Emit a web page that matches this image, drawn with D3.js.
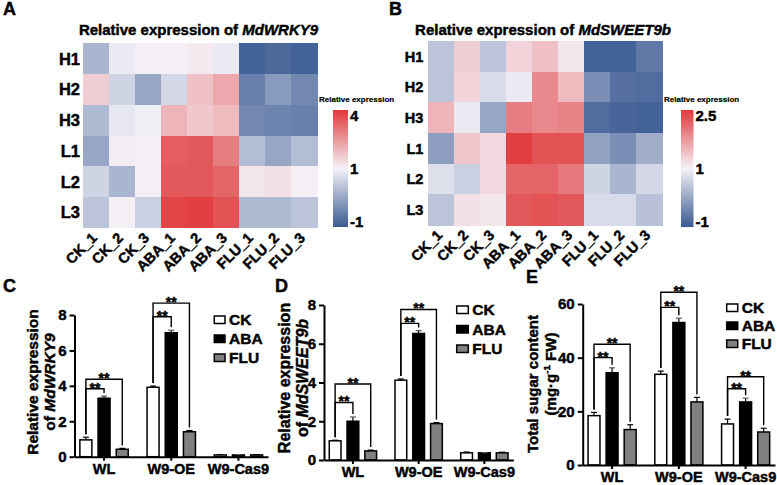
<!DOCTYPE html>
<html><head><meta charset="utf-8">
<script src="https://cdn.jsdelivr.net/npm/d3@7"></script>
<style>
body{margin:0;background:#fff;}
svg text{font-family:"Liberation Sans",Arial,Helvetica,sans-serif;font-weight:bold;fill:#000;stroke:#000;stroke-width:0.45px;paint-order:stroke;}
svg text.thin{stroke-width:0.2px;}
</style></head><body>
<svg id="fig" width="777" height="485"></svg>
<script>
// ---------- DATA ----------
const hmRows = ["H1","H2","H3","L1","L2","L3"];
const hmCols = ["CK_1","CK_2","CK_3","ABA_1","ABA_2","ABA_3","FLU_1","FLU_2","FLU_3"];
const wrky9Heat = [
  [0.2, 0.9, 1.05, 1.05, 1.15, 0.9, -0.9, -0.8, -0.9],
  [1.6, 0.6, 0.0, 0.65, 1.8, 2.2, -0.5, -0.15, -0.4],
  [0.25, 0.85, 0.95, 2.0, 1.7, 1.9, -0.4, -0.45, -0.5],
  [0.0, 1.1, 1.05, 3.4, 3.5, 2.9, 0.3, 0.0, 0.3],
  [0.6, 0.2, 1.05, 3.5, 3.5, 3.3, 1.2, 1.3, 1.05],
  [0.4, 1.05, 0.55, 3.8, 3.9, 3.6, 0.25, 0.25, 0.4]
];
const wrky9Domain = [-1, 1, 4];
const wrky9BarTicks = ["-1", "1", "4"];
const sweet9bHeat = [
  [0.4, 1.3, 0.4, 1.25, 1.4, 1.1, -0.9, -0.9, -0.6],
  [0.4, 1.25, 0.7, 0.9, 1.85, 1.45, -0.3, -0.7, -0.75],
  [1.5, 0.9, 0.0, 1.95, 1.85, 1.9, -0.75, -0.85, -0.9],
  [-0.1, 1.35, 1.2, 2.45, 2.3, 2.3, -0.05, -0.3, 0.1],
  [0.75, 0.55, 1.2, 2.15, 2.15, 2.0, 0.6, 0.2, 0.65],
  [0.4, 1.15, 1.1, 2.25, 2.3, 2.25, 0.7, 0.7, 0.35]
];
const sweet9bDomain = [-1, 1, 2.5];
const sweet9bBarTicks = ["-1", "1", "2.5"];

const groups = ["WL", "W9-OE", "W9-Cas9"];
const treatments = ["CK", "ABA", "FLU"];
const wrky9Mean = [[0.95, 3.3, 0.42], [3.92, 7.0, 1.41], [0.1, 0.1, 0.1]];
const wrky9Err  = [[0.15, 0.12, 0.05], [0.07, 0.14, 0.07], [0.02, 0.02, 0.02]];
const wrky9Sig  = [[0, 1, 3.84], [0, 2, 4.37], [1, 1, 7.9], [1, 2, 8.67]];
const wrky9Ticks = [0, 2, 4, 6, 8];

const sweet9bMean = [[0.99, 2.0, 0.47], [4.12, 6.53, 1.88], [0.37, 0.37, 0.37]];
const sweet9bErr  = [[0.03, 0.22, 0.04], [0.06, 0.15, 0.05], [0.04, 0.01, 0.03]];
const sweet9bSig  = [[0, 1, 2.97], [0, 2, 3.92], [1, 1, 7.05], [1, 2, 7.77]];
const sweet9bTicks = [0, 2, 4, 6, 8];

const sugarMean = [[18.4, 34.4, 13.2], [33.8, 53.1, 23.5], [15.3, 23.5, 12.3]];
const sugarErr  = [[1.2, 1.8, 1.8], [1.2, 1.6, 1.7], [1.8, 1.4, 1.4]];
const sugarSig  = [[0, 1, 40], [0, 2, 45], [1, 1, 58.75], [1, 2, 64.4], [2, 1, 28.4], [2, 2, 32.9]];
const sugarTicks = [0, 20, 40, 60];

// ---------- DRAW ----------
const svg = d3.select("#fig");
const defs = svg.append("defs");
const BLUE = "#3a5a92", WHITE = "#f4f2f8", RED = "#e0393b";

function panelLetter(t, x, y) {
  svg.append("text").attr("x", x).attr("y", y).attr("font-size", 18).text(t);
}

function heatmap(o) {
  const g = svg.append("g");
  const x = d3.scaleBand().domain(o.cols).range(o.xr);
  const y = d3.scaleBand().domain(o.rows).range(o.yr);
  const color = d3.scaleLinear().domain(o.domain).range([BLUE, WHITE, RED]).interpolate(d3.interpolateRgb).clamp(true);
  o.values.forEach((row, i) => {
    g.selectAll(null).data(row).enter().append("rect")
      .attr("x", (d, j) => x(o.cols[j])).attr("y", y(o.rows[i]))
      .attr("width", x.bandwidth() + 0.5).attr("height", y.bandwidth() + 0.5)
      .attr("fill", d => color(d)).attr("shape-rendering", "crispEdges");
  });
  // row labels
  g.selectAll(null).data(o.rows).enter().append("text")
    .attr("x", o.xr[0] - o.rowGap).attr("y", d => y(d) + y.bandwidth() / 2)
    .attr("dy", "0.36em").attr("text-anchor", "end").attr("font-size", o.rowFs).text(d => d);
  // column labels
  g.selectAll(null).data(o.cols).enter().append("text")
    .attr("text-anchor", "end").attr("font-size", o.colFs)
    .attr("transform", d => `translate(${x(d) + x.bandwidth() / 2 + 2},${o.yr[1] + 11}) rotate(-45)`)
    .text(d => d);
  // title
  const t = g.append("text").attr("x", o.titleX).attr("y", o.titleY).attr("text-anchor", "middle").attr("font-size", 15);
  t.append("tspan").text("Relative expression of ");
  t.append("tspan").attr("font-style", "italic").text(o.gene);
  // colour bar
  const pos = d3.scaleLinear().domain(o.domain).range([o.bar.y1, (o.bar.y0 + o.bar.y1) / 2, o.bar.y0]);
  const gid = "grad" + o.gene;
  const grad = defs.append("linearGradient").attr("id", gid).attr("x1", 0).attr("y1", 0).attr("x2", 0).attr("y2", 1);
  d3.range(0, 21).forEach(k => {
    const py = o.bar.y0 + (o.bar.y1 - o.bar.y0) * k / 20;
    grad.append("stop").attr("offset", k / 20).attr("stop-color", color(pos.invert(py)));
  });
  g.append("rect").attr("x", o.bar.x).attr("y", o.bar.y0).attr("width", o.bar.w)
    .attr("height", o.bar.y1 - o.bar.y0).attr("fill", `url(#${gid})`);
  g.append("text").attr("class", "thin").attr("x", o.bar.titleX).attr("y", o.bar.y0 - 8).attr("font-size", 8).text("Relative expression");
  const dys = ["0", "0.36em", "0.72em"];
  o.domain.forEach((v, k) => {
    g.append("text").attr("x", o.bar.x + o.bar.w + 2).attr("y", pos(v))
      .attr("dy", dys[k]).attr("font-size", 15).text(o.barTicks[k]);
  });
}

heatmap({values: wrky9Heat, rows: hmRows, cols: hmCols, domain: wrky9Domain, barTicks: wrky9BarTicks,
  xr: [83, 317], yr: [43.3, 227.7], rowFs: 16.5, colFs: 14.5, rowGap: 3,
  gene: "MdWRKY9", titleX: 198.5, titleY: 35,
  bar: {x: 333, w: 15, y0: 110, y1: 227, titleX: 319}});
heatmap({values: sweet9bHeat, rows: hmRows, cols: hmCols, domain: sweet9bDomain, barTicks: sweet9bBarTicks,
  xr: [428.3, 662.3], yr: [41, 225], rowFs: 14.5, colFs: 14.5, rowGap: 5,
  gene: "MdSWEET9b", titleX: 543, titleY: 35,
  bar: {x: 681, w: 12.5, y0: 110, y1: 227, titleX: 664}});

const fills = ["#ffffff", "#000000", "#808080"];

function barChart(o) {
  const g = svg.append("g");
  const x0 = d3.scaleBand().domain(groups).range(o.xr).paddingInner(0.28).paddingOuter(0.08);
  const x1 = d3.scaleBand().domain(treatments).range([0, x0.bandwidth()]).paddingInner(0.34).paddingOuter(0);
  const y = d3.scaleLinear().domain([0, o.max]).range(o.yr);
  const cx = (gi, ti) => x0(groups[gi]) + x1(treatments[ti]) + x1.bandwidth() / 2;

  groups.forEach((gr, gi) => {
    treatments.forEach((tr, ti) => {
      const m = o.mean[gi][ti], e = o.err[gi][ti];
      const bx = x0(gr) + x1(tr);
      g.append("rect").attr("x", bx).attr("y", y(m)).attr("width", x1.bandwidth())
        .attr("height", y(0) - y(m)).attr("fill", fills[ti]).attr("stroke", "#000").attr("stroke-width", 1.5);
      const c = cx(gi, ti);
      g.append("line").attr("x1", c).attr("x2", c).attr("y1", y(m)).attr("y2", y(m + e))
        .attr("stroke", "#000").attr("stroke-width", 1.2);
      g.append("line").attr("x1", c - 3).attr("x2", c + 3).attr("y1", y(m + e)).attr("y2", y(m + e))
        .attr("stroke", ti === 1 ? "#555" : "#000").attr("stroke-width", 1.2);
    });
  });

  // significance brackets
  o.sig.forEach(([gi, ti, lvl]) => {
    const xa = cx(gi, 0), xb = cx(gi, ti), yl = y(lvl);
    const ya = y(o.mean[gi][0] + o.err[gi][0]) - 3;
    const yb = y(o.mean[gi][ti] + o.err[gi][ti]) - 3;
    g.append("path").attr("d", `M${xa},${ya}V${yl}H${xb}V${yb}`)
      .attr("fill", "none").attr("stroke", "#000").attr("stroke-width", 1.4);
    g.append("text").attr("x", (xa + xb) / 2).attr("y", yl + 4).attr("text-anchor", "middle")
      .attr("font-size", 14).text("**");
  });

  // axes
  const ya = g.append("g").attr("transform", `translate(${o.xr[0]},0)`)
    .call(d3.axisLeft(y).tickValues(o.ticks).tickSize(5).tickSizeOuter(0).tickPadding(3));
  const xa = g.append("g").attr("transform", `translate(0,${o.yr[0]})`)
    .call(d3.axisBottom(x0).tickSize(4).tickSizeOuter(0).tickPadding(3));
  [ya, xa].forEach(a => {
    a.select(".domain").attr("stroke-width", 2).attr("stroke", "#000");
    a.selectAll(".tick line").attr("stroke-width", 2).attr("stroke", "#000");
    a.selectAll("text").attr("font-size", 15).attr("font-family", null).attr("fill", "#000");
  });
  xa.selectAll("text").attr("font-size", 14.5).attr("dy", "0.72em");

  // legend
  treatments.forEach((tr, ti) => {
    const ly = o.leg.y + ti * o.leg.dy;
    g.append("rect").attr("x", o.leg.x).attr("y", ly).attr("width", o.leg.w).attr("height", 7.5)
      .attr("fill", fills[ti]).attr("stroke", "#000").attr("stroke-width", 1.5);
    g.append("text").attr("x", o.leg.x + o.leg.w + 4).attr("y", ly + 3.75).attr("dy", "0.36em")
      .attr("font-size", 15.5).text(tr);
  });

  // y label
  o.ylab.forEach((l, k) => {
    const t = g.append("text").attr("text-anchor", "middle").attr("font-size", o.labFs)
      .attr("transform", `translate(${l.x},${l.cy}) rotate(-90)`);
    l.parts.forEach(p => {
      const s = t.append("tspan").text(p.t);
      if (p.it) s.attr("font-style", "italic");
      if (p.sup) s.attr("font-size", o.labFs * 0.65).attr("dy", -6);
      if (p.down) s.attr("dy", 6);
    });
  });
}

barChart({mean: wrky9Mean, err: wrky9Err, sig: wrky9Sig, ticks: wrky9Ticks, max: 8,
  xr: [74.5, 268], yr: [456.7, 315], leg: {x: 214.3, y: 316, dy: 19, w: 10.7}, labFs: 15.5,
  ylab: [{x: 37.5, cy: 382, parts: [{t: "Relative expression"}]},
         {x: 55, cy: 382, parts: [{t: "of "}, {t: "MdWRKY9", it: true}]}]});
barChart({mean: sweet9bMean, err: sweet9bErr, sig: sweet9bSig, ticks: sweet9bTicks, max: 8,
  xr: [324, 513.3], yr: [460, 305], leg: {x: 456.7, y: 306, dy: 19.5, w: 11.6}, labFs: 16,
  ylab: [{x: 290, cy: 378, parts: [{t: "Relative expression"}]},
         {x: 308, cy: 378, parts: [{t: "of "}, {t: "MdSWEET9b", it: true}]}]});
barChart({mean: sugarMean, err: sugarErr, sig: sugarSig, ticks: sugarTicks, max: 60,
  xr: [582.7, 775], yr: [465, 304], leg: {x: 726.7, y: 304, dy: 18, w: 11}, labFs: 15,
  ylab: [{x: 538, cy: 384, parts: [{t: "Total sugar content"}]},
         {x: 556, cy: 374, parts: [{t: "(mg·g"}, {t: "-1", sup: true}, {t: " FW)", down: true}]}]});

panelLetter("A", 3, 15);
panelLetter("B", 389, 15);
panelLetter("C", 3, 292);
panelLetter("D", 275, 292);
panelLetter("E", 526, 283);
</script>
</body></html>
